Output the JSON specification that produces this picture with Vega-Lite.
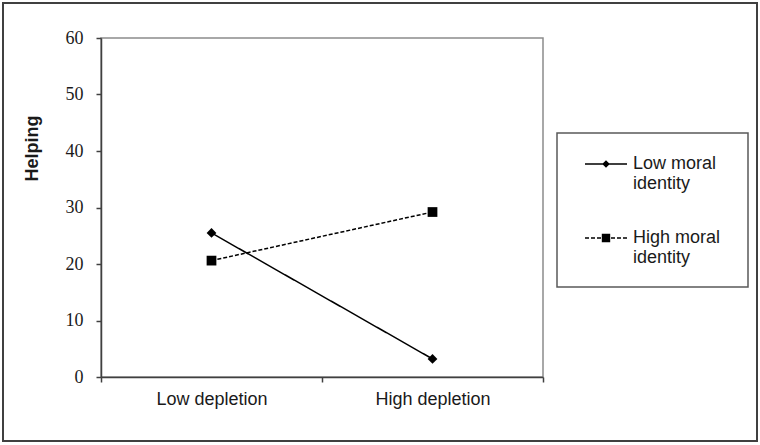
{
  "$schema": "https://vega.github.io/schema/vega-lite/v6.json",
  "width": 442,
  "height": 339,
  "autosize": "none",
  "padding": {"left": 101, "top": 38, "right": 217, "bottom": 68},
  "background": "white",
  "data": {
    "values": [
      {"depletion": "Low depletion", "identity": "Low moral identity", "helping": 25.5},
      {"depletion": "High depletion", "identity": "Low moral identity", "helping": 3.2},
      {"depletion": "Low depletion", "identity": "High moral identity", "helping": 20.6},
      {"depletion": "High depletion", "identity": "High moral identity", "helping": 29.2}
    ]
  },
  "config": {
    "view": {"stroke": "#8c8c8c", "strokeWidth": 1.5},
    "legend": {"strokeWidth": 1.5}
  },
  "encoding": {
    "x": {
      "field": "depletion",
      "type": "nominal",
      "sort": ["Low depletion", "High depletion"],
      "scale": {"type": "band", "paddingInner": 0, "paddingOuter": 0},
      "axis": {
        "title": null,
        "labelAngle": 0,
        "tickBand": "extent",
        "domainColor": "#404040",
        "domainWidth": 1.5,
        "tickColor": "#404040",
        "tickWidth": 1.5,
        "tickSize": 5,
        "labelFont": "Liberation Sans",
        "labelFontSize": 18,
        "labelColor": "#1a1a1a",
        "labelPadding": 8
      }
    },
    "y": {
      "field": "helping",
      "type": "quantitative",
      "scale": {"domain": [0, 60], "nice": false},
      "axis": {
        "values": [0, 10, 20, 30, 40, 50, 60],
        "grid": false,
        "domainColor": "#404040",
        "domainWidth": 1.5,
        "tickColor": "#404040",
        "tickWidth": 1.5,
        "tickSize": 5,
        "labelFont": "Liberation Serif",
        "labelFontSize": 18,
        "labelColor": "#1a1a1a",
        "labelPadding": 13,
        "title": "Helping",
        "titleFont": "Liberation Sans",
        "titleFontSize": 18,
        "titleFontWeight": "bold",
        "titleColor": "#1a1a1a",
        "titleBaseline": "alphabetic",
        "titleX": -64,
        "titleY": 110
      }
    }
  },
  "layer": [
    {
      "data": {"values": [{}]},
      "mark": {"type": "rect", "filled": false, "color": "#404040", "strokeWidth": 2},
      "encoding": {
        "x": {"value": -98},
        "x2": {"value": 656},
        "y": {"value": -35},
        "y2": {"value": 403}
      }
    },
    {
      "mark": {"type": "line", "color": "black", "strokeWidth": 1.5},
      "encoding": {
        "detail": {"field": "identity"},
        "strokeDash": {
          "field": "identity",
          "type": "nominal",
          "scale": {"domain": ["Low moral identity", "High moral identity"], "range": [[1, 0], [4, 2]]},
          "legend": null
        }
      }
    },
    {
      "mark": {"type": "point", "filled": true, "color": "black", "opacity": 1, "size": 95},
      "encoding": {
        "shape": {
          "field": "identity",
          "type": "nominal",
          "scale": {"domain": ["Low moral identity", "High moral identity"], "range": ["diamond", "square"]},
          "legend": null
        }
      }
    },
    {
      "transform": [{"filter": "false"}],
      "mark": {"type": "point", "filled": true, "color": "black", "opacity": 1, "size": 400},
      "encoding": {
        "shape": {
          "field": "identity",
          "type": "nominal",
          "scale": {
            "domain": ["Low moral identity", "High moral identity"],
            "range": [
              "M-2.1,-0.075H2.1V0.075H-2.1ZM-0.38,0L0,-0.38L0.38,0L0,0.38Z",
              "M-2.1,-0.075H-1.7V0.075H-2.1ZM-1.5,-0.075H-1.1V0.075H-1.5ZM-0.9,-0.075H-0.5V0.075H-0.9ZM0.5,-0.075H0.9V0.075H0.5ZM1.1,-0.075H1.5V0.075H1.1ZM1.7,-0.075H2.1V0.075H1.7ZM-0.42,-0.42H0.42V0.42H-0.42Z"
            ]
          },
          "legend": {
            "orient": "none",
            "legendX": 456,
            "legendY": 95,
            "title": "\u00a0",
            "titleOrient": "right",
            "titlePadding": 8,
            "titleFontSize": 18,
            "padding": 20,
            "strokeColor": "#595959",
            "symbolSize": 400,
            "symbolStrokeWidth": 1.5,
            "symbolOpacity": 1,
            "symbolOffset": 18,
            "labelOffset": 16,
            "rowPadding": 34,
            "labelFont": "Liberation Sans",
            "labelFontSize": 18,
            "labelColor": "#1a1a1a",
            "labelLimit": 300,
            "labelExpr": "datum.label == 'Low moral identity' ? ['Low moral', 'identity'] : ['High moral', 'identity']"
          }
        }
      }
    }
  ],
  "resolve": {"scale": {"shape": "independent"}}
}
